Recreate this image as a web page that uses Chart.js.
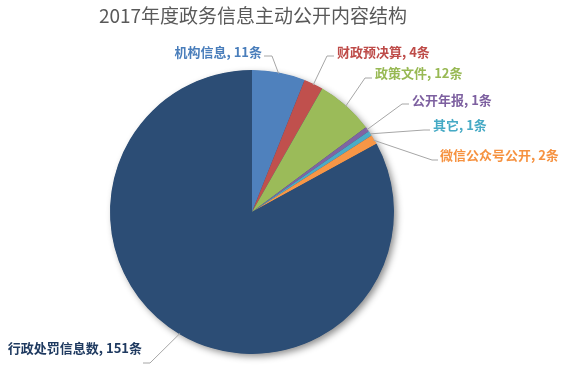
<!DOCTYPE html>
<html>
<head>
<meta charset="utf-8">
<script src="https://cdn.jsdelivr.net/npm/chart.js@4.4.1/dist/chart.umd.min.js"></script>
<style>
  html, body { margin: 0; padding: 0; background: #ffffff; }
  #wrap { width: 568px; height: 376px; }
</style>
</head>
<body>
<div id="wrap"><canvas id="c" width="568" height="376"></canvas></div>
<script>
// ---- data ----
const chartTitle = '2017年度政务信息主动公开内容结构';
const categories = ['机构信息', '财政预决算', '政策文件', '公开年报', '其它', '微信公众号公开', '行政处罚信息数'];
const values = [11, 4, 12, 1, 1, 2, 151];
const unitLabel = '条';

// ---- styles ----
const sliceColors = ['#4F81BD', '#C0504D', '#9BBB59', '#8064A2', '#4BACC6', '#F79646', '#2C4D75'];
const labelColors = ['#4A7EBB', '#BE4B48', '#98B954', '#7D60A0', '#46AAC5', '#F69240', '#1F3A60'];
// label layout: text anchor (x, y), alignment, elbow point where leader meets the short horizontal segment
const labelLayout = [
  { tx: 262, ty: 52, align: 'right', ex: 272, ey: 56, hx: 264 },
  { tx: 337, ty: 52, align: 'left',  ex: 327, ey: 56, hx: 334 },
  { tx: 375, ty: 73, align: 'left',  ex: 365, ey: 78, hx: 372 },
  { tx: 412, ty: 100, align: 'left', ex: 402, ey: 104, hx: 409 },
  { tx: 433, ty: 125, align: 'left', ex: 424, ey: 130, hx: 430 },
  { tx: 440, ty: 155, align: 'left', ex: 432, ey: 160, hx: 438 },
  { tx: 142, ty: 348, align: 'right', ex: 150, ey: 363, hx: 143 }
];

const shadowPlugin = {
  id: 'pieShadow',
  beforeDatasetsDraw(chart) {
    const arc = chart.getDatasetMeta(0).data[0];
    if (!arc) return;
    const ctx = chart.ctx;
    ctx.save();
    ctx.shadowColor = 'rgba(0,0,0,0.45)';
    ctx.shadowBlur = 7;
    ctx.shadowOffsetX = 3;
    ctx.shadowOffsetY = 3;
    ctx.fillStyle = '#2C4D75';
    ctx.beginPath();
    ctx.arc(arc.x, arc.y, arc.outerRadius - 0.5, 0, Math.PI * 2);
    ctx.fill();
    ctx.restore();
  }
};

const labelPlugin = {
  id: 'leaderLabels',
  afterDatasetsDraw(chart) {
    const ctx = chart.ctx;
    const meta = chart.getDatasetMeta(0);
    // title
    ctx.save();
    ctx.font = '19px "Noto Sans CJK SC", "Noto Sans", sans-serif';
    ctx.fillStyle = '#595959';
    ctx.textAlign = 'center';
    ctx.textBaseline = 'middle';
    ctx.fillText(chartTitle, 253, 16);
    ctx.restore();

    meta.data.forEach((arc, i) => {
      const L = labelLayout[i];
      const mid = (arc.startAngle + arc.endAngle) / 2;
      const ax = arc.x + Math.cos(mid) * (arc.outerRadius - 1);
      const ay = arc.y + Math.sin(mid) * (arc.outerRadius - 1);
      ctx.save();
      ctx.strokeStyle = '#A6A6A6';
      ctx.lineWidth = 1;
      ctx.beginPath();
      ctx.moveTo(ax, ay);
      ctx.lineTo(L.ex, L.ey);
      ctx.lineTo(L.hx, L.ey);
      ctx.stroke();
      ctx.font = 'bold 13px "Noto Sans CJK SC", "Noto Sans", sans-serif';
      ctx.fillStyle = labelColors[i];
      ctx.textAlign = L.align;
      ctx.textBaseline = 'middle';
      ctx.fillText(categories[i] + ', ' + values[i] + unitLabel, L.tx, L.ty);
      ctx.restore();
    });
  }
};

new Chart(document.getElementById('c'), {
  type: 'pie',
  data: {
    labels: categories,
    datasets: [{
      data: values,
      backgroundColor: sliceColors,
      borderWidth: 0,
      radius: 142
    }]
  },
  options: {
    responsive: false,
    animation: false,
    layout: { padding: { left: 0, right: 64, top: 48, bottom: 0 } },
    plugins: {
      legend: { display: false },
      title: { display: false },
      tooltip: { enabled: false }
    }
  },
  plugins: [shadowPlugin, labelPlugin]
});
</script>
</body>
</html>
